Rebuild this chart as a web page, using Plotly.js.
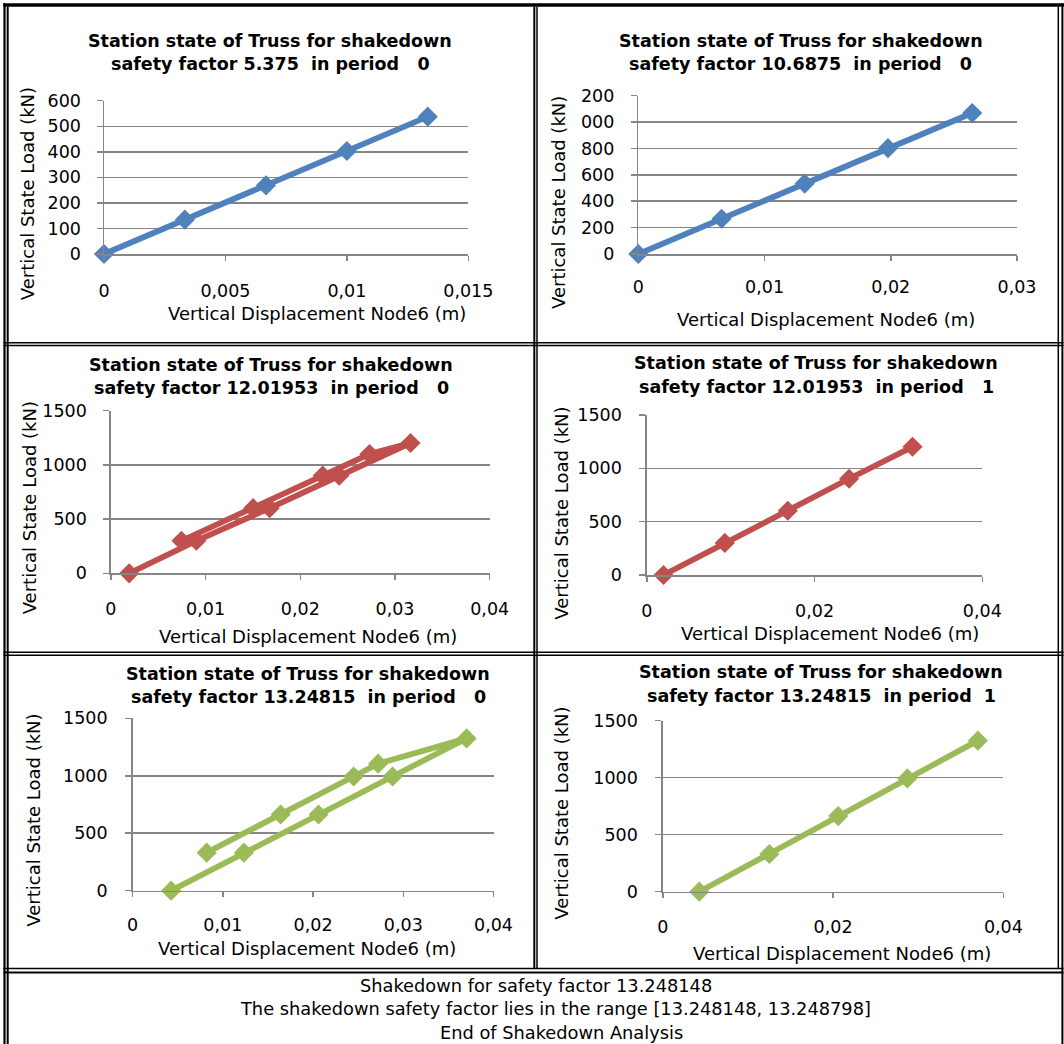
<!DOCTYPE html>
<html>
<head>
<meta charset="utf-8">
<script src="https://cdn.plot.ly/plotly-3.0.1.min.js"></script>
<style>
html,body{margin:0;padding:0;background:#fff;}
#chart{width:1064px;height:1044px;}
</style>
</head>
<body>
<div id="chart"></div>
<script>
// ---------------- data ----------------
var titleLine1 = "Station state of Truss for shakedown";
var titleLine2 = [
  "safety factor 5.375\u00a0\u00a0in period\u00a0\u00a0\u00a00",
  "safety factor 10.6875\u00a0\u00a0in period\u00a0\u00a0\u00a00",
  "safety factor 12.01953\u00a0\u00a0in period\u00a0\u00a0\u00a00",
  "safety factor 12.01953\u00a0\u00a0in period\u00a0\u00a0\u00a01",
  "safety factor 13.24815\u00a0\u00a0in period\u00a0\u00a0\u00a00",
  "safety factor 13.24815\u00a0\u00a0in period\u00a0\u00a01"
];
var xTitle = "Vertical Displacement Node6 (m)";
var yTitle = "Vertical State Load (kN)";

var disp1 = [0, 0.00333, 0.00667, 0.01, 0.01333];
var load1 = [0, 134.4, 268.8, 403.1, 537.5];

var disp2 = [0, 0.00660, 0.01318, 0.01978, 0.02645];
var load2 = [0, 267, 534, 802, 1069];

var disp3 = [0.00193, 0.00902, 0.01676, 0.02411, 0.03164, 0.02731, 0.02236, 0.01502, 0.00745];
var load3 = [0, 300, 601, 901, 1202, 1100, 901, 601, 300];

var disp4 = [0.00199, 0.0093, 0.01681, 0.02412, 0.03168];
var load4 = [0, 301, 602, 902, 1202];

var disp5 = [0.00427, 0.01233, 0.02061, 0.02882, 0.03702, 0.02721, 0.0245, 0.01641, 0.00821];
var load5 = [0, 331, 663, 994, 1325, 1105, 994, 663, 331];

var disp6 = [0.00428, 0.01252, 0.0206, 0.02872, 0.037];
var load6 = [0, 331, 663, 994, 1325];

var xTickVals1 = [0, 0.005, 0.01, 0.015];
var xTickText1 = ["0", "0,005", "0,01", "0,015"];
var xTickVals2 = [0, 0.01, 0.02, 0.03];
var xTickText2 = ["0", "0,01", "0,02", "0,03"];
var xTickVals3 = [0, 0.01, 0.02, 0.03, 0.04];
var xTickText3 = ["0", "0,01", "0,02", "0,03", "0,04"];
var xTickVals4 = [0, 0.02, 0.04];
var xTickText4 = ["0", "0,02", "0,04"];

var yTickVals1 = [0, 100, 200, 300, 400, 500, 600];
var yTickText1 = ["0", "100", "200", "300", "400", "500", "600"];
var yTickVals2 = [0, 200, 400, 600, 800, 1000, 1200];
var yTickText2 = ["0", "200", "400", "600", "800", "000", "200"];
var yTickVals3 = [0, 500, 1000, 1500];
var yTickText3 = ["0", "500", "1000", "1500"];

var footerLines = [
  "Shakedown for safety factor 13.248148",
  "The shakedown safety factor lies in the range [13.248148, 13.248798]",
  "End of Shakedown Analysis"
];

// ---------------- layout / style ----------------
var W = 1064, H = 1044;
function px(x){ return x / W; }
function py(y){ return 1 - y / H; }

var BLUE = "#4F81BD", RED = "#C0504D", GREEN = "#9BBB59";
var GRID = "#868686";
var FONT = "DejaVu Sans";

var panels = [
  {x: disp1, y: load1, color: BLUE,  l:104,   r:468.3,  t:100.7, b:254,   xmax:0.015, ymax:600,  xv:xTickVals1, xt:xTickText1, yv:yTickVals1, yt:yTickText1,
   tx:270, ty1:41, ty2:64, axx:316.8, axy:313, ayx:27.5, ayy:193.7, xs:15, ys:12},
  {x: disp2, y: load2, color: BLUE,  l:638.3, r:1017,   t:95.7,  b:254,   xmax:0.03,  ymax:1200, xv:xTickVals2, xt:xTickText2, yv:yTickVals2, yt:yTickText2,
   tx:800.7, ty1:41, ty2:64, axx:826.3, axy:319, ayx:559, ayy:203, xs:11, ys:13},
  {x: disp3, y: load3, color: RED,   l:110.9, r:489.7,  t:410.7, b:573.3, xmax:0.04,  ymax:1500, xv:xTickVals3, xt:xTickText3, yv:yTickVals3, yt:yTickText3,
   tx:271.4, ty1:365, ty2:388, axx:308.2, axy:636, ayx:29.3, ayy:508, xs:14, ys:13},
  {x: disp4, y: load4, color: RED,   l:646.8, r:982.3,  t:415,   b:575,   xmax:0.04,  ymax:1500, xv:xTickVals4, xt:xTickText4, yv:yTickVals3, yt:yTickText3,
   tx:816, ty1:363, ty2:387, axx:830.4, axy:633, ayx:560.7, ayy:513, xs:14, ys:14},
  {x: disp5, y: load5, color: GREEN, l:132.6, r:493.5,  t:718.3, b:890.7, xmax:0.04,  ymax:1500, xv:xTickVals3, xt:xTickText3, yv:yTickVals3, yt:yTickText3,
   tx:308.2, ty1:674, ty2:697, axx:306.5, axy:948, ayx:32.7, ayy:820, xs:13, ys:14},
  {x: disp6, y: load6, color: GREEN, l:662.8, r:1003.4, t:720.7, b:891.7, xmax:0.04,  ymax:1500, xv:xTickVals4, xt:xTickText4, yv:yTickVals3, yt:yTickText3,
   tx:821.2, ty1:672, ty2:696, axx:841.6, axy:953, ayx:560.7, ayy:813, xs:14, ys:14}
];

var data = [];
var layout = {
  width: W, height: H, autosize: false,
  margin: {l:0, r:0, t:0, b:0, pad:0},
  paper_bgcolor: "#ffffff", plot_bgcolor: "#ffffff",
  showlegend: false,
  font: {family: FONT, color: "#000000"},
  annotations: [], shapes: []
};

panels.forEach(function(p, i){
  var n = i + 1;
  var xa = "xaxis" + (n === 1 ? "" : n), ya = "yaxis" + (n === 1 ? "" : n);
  var xid = "x" + (n === 1 ? "" : n), yid = "y" + (n === 1 ? "" : n);
  data.push({
    type: "scatter", mode: "lines+markers", x: p.x, y: p.y,
    xaxis: xid, yaxis: yid, cliponaxis: false,
    line: {color: p.color, width: 5.8},
    marker: {symbol: "diamond", size: 15.5, color: p.color},
    hoverinfo: "skip"
  });
  layout[xa] = {
    domain: [px(p.l), px(p.r)], range: [0, p.xmax], anchor: yid,
    tickmode: "array", tickvals: p.xv, ticktext: p.xt,
    showgrid: false, zeroline: false, showline: true, linecolor: GRID, linewidth: 1.5,
    ticks: "outside", ticklen: 5, tickwidth: 1.5, tickcolor: GRID,
    tickfont: {family: FONT, size: 17.5, color: "#000"},
    ticklabelstandoff: p.xs, fixedrange: true
  };
  layout[ya] = {
    domain: [py(p.b), py(p.t)], range: [0, p.ymax], anchor: xid,
    tickmode: "array", tickvals: p.yv, ticktext: p.yt,
    showgrid: true, gridcolor: GRID, gridwidth: 1.5, zeroline: false,
    showline: true, linecolor: GRID, linewidth: 1.5,
    ticks: "outside", ticklen: 6, tickwidth: 1.5, tickcolor: GRID,
    tickfont: {family: FONT, size: 17.5, color: "#000"},
    ticklabelstandoff: p.ys, fixedrange: true
  };
  var tf = {family: FONT, size: 17.5, color: "#000", weight: "bold"};
  layout.annotations.push(
    {xref:"paper", yref:"paper", x:px(p.tx), y:py(p.ty1), text:titleLine1, showarrow:false, xanchor:"center", yanchor:"middle", font:tf},
    {xref:"paper", yref:"paper", x:px(p.tx), y:py(p.ty2), text:titleLine2[i], showarrow:false, xanchor:"center", yanchor:"middle", font:tf},
    {xref:"paper", yref:"paper", x:px(p.axx), y:py(p.axy), text:xTitle, showarrow:false, xanchor:"center", yanchor:"middle", font:{family:FONT, size:18, color:"#000"}},
    {xref:"paper", yref:"paper", x:px(p.ayx), y:py(p.ayy), text:yTitle, showarrow:false, xanchor:"center", yanchor:"middle", textangle:-90, font:{family:FONT, size:18, color:"#000"}}
  );
});

var footerX = [536, 555, 561];
var footerY = [985, 1008.5, 1032];
footerLines.forEach(function(t, i){
  layout.annotations.push({xref:"paper", yref:"paper", x:px(footerX[i]), y:py(footerY[i]), text:t, showarrow:false,
    xanchor:"center", yanchor:"middle", font:{family:FONT, size:17.8, color:"#000"}});
});

// table borders
function hline(y, x0, x1, w){ layout.shapes.push({type:"line", xref:"paper", yref:"paper", x0:px(x0), x1:px(x1), y0:py(y), y1:py(y), line:{color:"#000", width:w}}); }
function vline(x, y0, y1, w){ layout.shapes.push({type:"line", xref:"paper", yref:"paper", x0:px(x), x1:px(x), y0:py(y0), y1:py(y1), line:{color:"#000", width:w}}); }

hline(5, 3.3, 1064, 3.4);
hline(342.7, 3.5, 1063.5, 1.5); hline(345.4, 3.5, 1063.5, 1.5);
hline(652.3, 3.5, 1063.5, 1.5); hline(655.3, 3.5, 1063.5, 1.5);
hline(968.5, 3.5, 1063.5, 1.5); hline(972.4, 3.5, 1063.5, 2);
vline(4.5, 3.3, 1044, 2.2); vline(7.7, 6.7, 1044, 2);
vline(534.3, 6.7, 968.5, 2); vline(537, 6.7, 968.5, 1.5);
vline(1058.3, 6.7, 968.5, 1.5); vline(1062.4, 3.3, 1044, 2);

Plotly.newPlot("chart", data, layout, {staticPlot: true, displayModeBar: false});
</script>
</body>
</html>
